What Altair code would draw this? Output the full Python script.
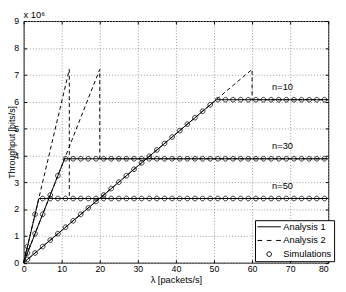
import altair as alt
import pandas as pd

FONT = "Liberation Sans"

# ---------------- data (throughput in units of 10^6 bits/s) ----------------
lam_sim = [1, 3, 5, 7, 9, 11, 13, 15, 17, 19, 21, 23, 25, 27, 29, 31, 33, 35, 37, 39,
           41, 43, 45, 47, 49, 51, 53, 55, 57, 59, 61, 63, 65, 67, 69, 71, 73, 75, 77, 79]
sim_n10 = [0.12, 0.36, 0.60, 0.84, 1.08, 1.32, 1.56, 1.80, 2.04, 2.28,
           2.52, 2.76, 3.00, 3.24, 3.48, 3.72, 3.96, 4.20, 4.44, 4.68,
           4.92, 5.16, 5.40, 5.64, 5.88, 6.07, 6.07, 6.07, 6.07, 6.07,
           6.07, 6.07, 6.07, 6.07, 6.07, 6.07, 6.07, 6.07, 6.07, 6.07]
sim_n30 = [0.36, 1.08, 1.80, 2.52, 3.24, 3.87, 3.87, 3.87, 3.87, 3.87,
           3.87, 3.87, 3.87, 3.87, 3.87, 3.87, 3.87, 3.87, 3.87, 3.87,
           3.87, 3.87, 3.87, 3.87, 3.87, 3.87, 3.87, 3.87, 3.87, 3.87,
           3.87, 3.87, 3.87, 3.87, 3.87, 3.87, 3.87, 3.87, 3.87, 3.87]
sim_n50 = [0.60, 1.80, 2.39, 2.39, 2.39, 2.39, 2.39, 2.39, 2.39, 2.39,
           2.39, 2.39, 2.39, 2.39, 2.39, 2.39, 2.39, 2.39, 2.39, 2.39,
           2.39, 2.39, 2.39, 2.39, 2.39, 2.39, 2.39, 2.39, 2.39, 2.39,
           2.39, 2.39, 2.39, 2.39, 2.39, 2.39, 2.39, 2.39, 2.39, 2.39]

# Analysis 1 (solid) vertices
a1_n10_lam = [0, 50.6, 80]
a1_n10_thr = [0, 6.07, 6.07]
a1_n30_lam = [0, 10.75, 80]
a1_n30_thr = [0, 3.87, 3.87]
a1_n50_lam = [0, 4.0, 80]
a1_n50_thr = [0, 2.39, 2.39]

# Analysis 2 (dashed) vertices
a2_n10_lam = [0, 60, 60, 80]
a2_n10_thr = [0, 7.2, 6.07, 6.07]
a2_n30_lam = [0, 20, 20, 80]
a2_n30_thr = [0, 7.2, 3.87, 3.87]
a2_n50_lam = [0, 12, 12, 80]
a2_n50_thr = [0, 7.2, 2.39, 2.39]

label_text = ["n=10", "n=30", "n=50"]
label_lam = [68, 68, 68]
label_thr = [6.53, 4.35, 2.85]

x_ticks = [0, 10, 20, 30, 40, 50, 60, 70, 80]
y_ticks = [0, 1, 2, 3, 4, 5, 6, 7, 8, 9]
legend_items = ["Analysis 1", "Analysis 2", "Simulations"]


def line_df(pairs):
    rows = []
    for name, lams, thrs in pairs:
        for i, (l, t) in enumerate(zip(lams, thrs)):
            rows.append({"n": name, "i": i, "lam": l, "thr": t})
    return pd.DataFrame(rows)


df_a1 = line_df([("n=10", a1_n10_lam, a1_n10_thr),
                 ("n=30", a1_n30_lam, a1_n30_thr),
                 ("n=50", a1_n50_lam, a1_n50_thr)])
df_a2 = line_df([("n=10", a2_n10_lam, a2_n10_thr),
                 ("n=30", a2_n30_lam, a2_n30_thr),
                 ("n=50", a2_n50_lam, a2_n50_thr)])
df_sim = pd.concat([
    pd.DataFrame({"n": "n=10", "lam": lam_sim, "thr": sim_n10}),
    pd.DataFrame({"n": "n=30", "lam": lam_sim, "thr": sim_n30}),
    pd.DataFrame({"n": "n=50", "lam": lam_sim, "thr": sim_n50}),
], ignore_index=True)
df_sim["kind"] = "Simulations"
df_lab = pd.DataFrame({"txt": label_text, "lam": label_lam, "thr": label_thr})

W, H = 312, 247.5
xs = alt.Scale(domain=[0, 80], nice=False, zero=False)
ys = alt.Scale(domain=[0, 9], nice=False, zero=False)

GRID = dict(grid=True, gridColor="#999999", gridDash=[1, 2], gridWidth=1)

x_main = alt.Axis(values=x_ticks, ticks=False, domain=False, labelFlush=False,
                  labelAlign={"condition": {"test": "datum.value === 80", "value": "right"},
                              "value": "center"},
                  labelFont=FONT, labelFontSize=9, labelColor="#000", labelPadding=2,
                  title="λ [packets/s]", titleFont=FONT, titleFontSize=9.5,
                  titleFontWeight="normal", titleColor="#000", titlePadding=1, **GRID)
y_main = alt.Axis(values=y_ticks, ticks=False, domain=False,
                  labelFont=FONT, labelFontSize=9, labelColor="#000", labelPadding=5,
                  title="Throughput [bits/s]", titleFont=FONT, titleFontSize=9,
                  titleFontWeight="normal", titleColor="#000", titleX=-7, **GRID)


def tick_axis(orient, offset, vals):
    return alt.Axis(orient=orient, offset=offset, values=vals, labels=False, grid=False,
                    domain=False, ticks=True, tickSize=3, tickColor="#000", tickWidth=1,
                    title=None)


solid = alt.Chart(df_a1).mark_line(color="black", strokeWidth=1).encode(
    x=alt.X("lam:Q", scale=xs, axis=x_main),
    y=alt.Y("thr:Q", scale=ys, axis=y_main),
    detail="n:N",
    order="i:Q",
)

dashed = alt.Chart(df_a2).mark_line(color="black", strokeWidth=1, strokeDash=[4, 3]).encode(
    x=alt.X("lam:Q", scale=xs, axis=tick_axis("top", -H, x_ticks)),
    y=alt.Y("thr:Q", scale=ys, axis=tick_axis("right", -W, y_ticks)),
    detail="n:N",
    order="i:Q",
)

LINE_PATH = "M-1,0H1"
DASH_PATH = "M-1,0H-0.6M-0.2,0H0.2M0.6,0H1"
CIRC_PATH = "M-0.2,0A0.2,0.2 0 1,0 0.2,0A0.2,0.2 0 1,0 -0.2,0Z"

points = alt.Chart(df_sim).mark_point(filled=False, color="black", strokeWidth=0.8,
                                      size=576, opacity=1).encode(
    x=alt.X("lam:Q", scale=xs, axis=tick_axis("bottom", -H, x_ticks)),
    y=alt.Y("thr:Q", scale=ys, axis=tick_axis("left", -W, y_ticks)),
    shape=alt.Shape("kind:N",
                    scale=alt.Scale(domain=legend_items,
                                    range=[LINE_PATH, DASH_PATH, CIRC_PATH]),
                    legend=alt.Legend(orient="none", legendX=237, legendY=204, title=None,
                                      labelFont=FONT, labelFontSize=9.5, labelColor="#000",
                                      labelOffset=2, symbolSize=576, symbolStrokeWidth=1,
                                      symbolStrokeColor="black", symbolFillColor="transparent",
                                      strokeColor="black", fillColor="white", padding=2,
                                      clipHeight=9.5, rowPadding=3, cornerRadius=0)),
    detail="n:N",
)

labels = alt.Chart(df_lab).mark_text(font=FONT, fontSize=9.5, color="black",
                                     align="center", baseline="middle").encode(
    x=alt.X("lam:Q", scale=xs, axis=None),
    y=alt.Y("thr:Q", scale=ys, axis=None),
    text="txt:N",
)

chart = alt.layer(solid, dashed, points, labels).resolve_axis(
    x="independent", y="independent"
).properties(
    width=W, height=H,
    title=alt.TitleParams(text="x 10⁶", anchor="start", frame="group", font=FONT,
                          fontSize=9.5, fontWeight="normal", color="#000", offset=3, dy=5),
    autosize=alt.AutoSizeParams(type="none"),
    padding={"left": 16, "top": 10, "right": 10, "bottom": 19},
).configure_view(stroke="#000", strokeWidth=1)

chart.save("out.html", embed_options={"renderer": "svg", "actions": False})
